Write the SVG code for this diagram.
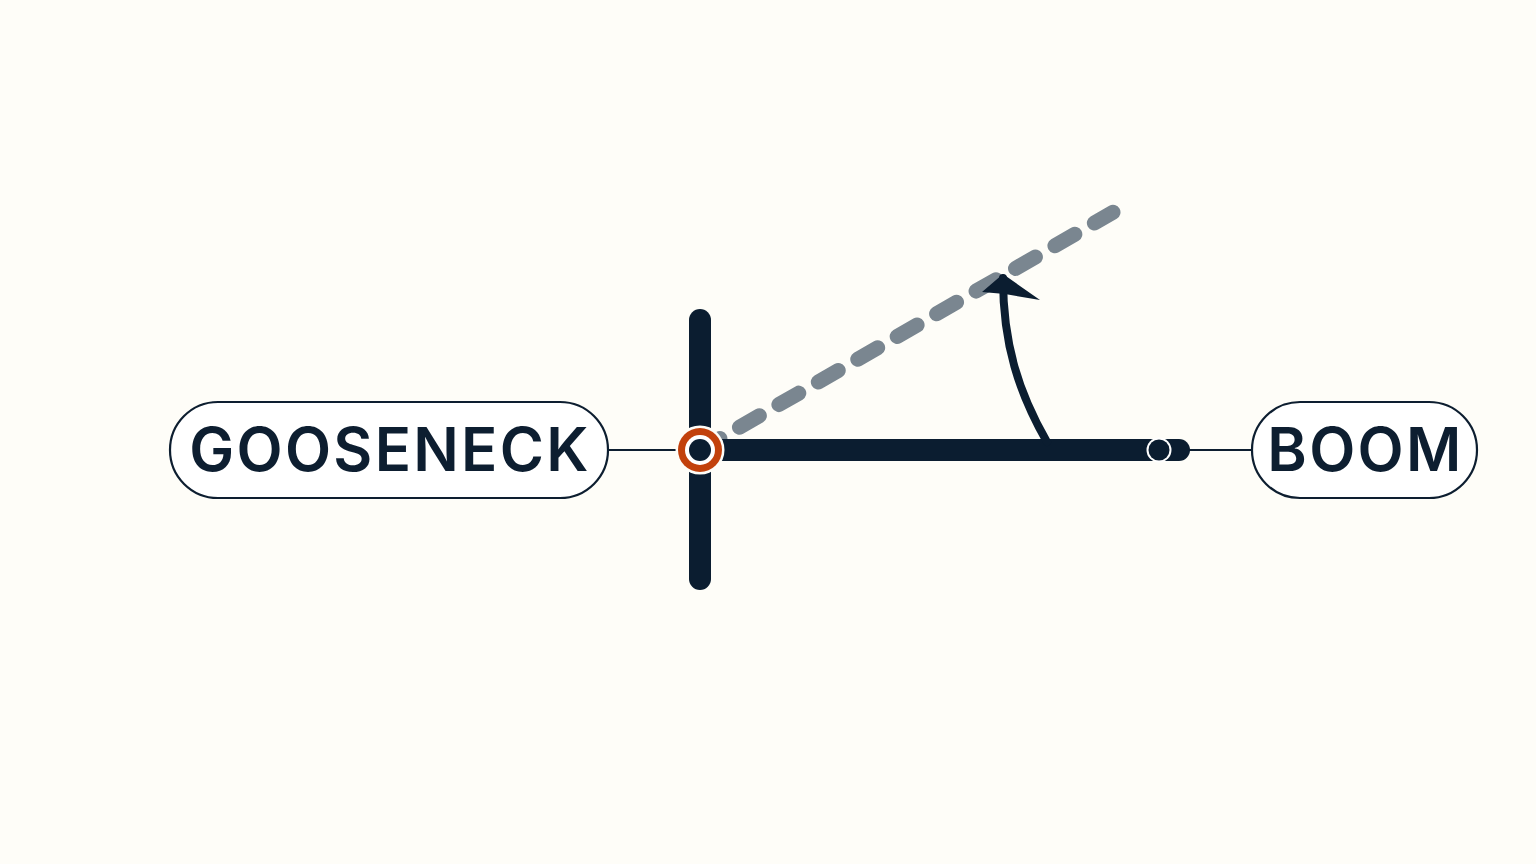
<svg xmlns="http://www.w3.org/2000/svg" width="1536" height="864" viewBox="0 0 1536 864">
<style>
.bg{fill:#fefdf8}
.pill{fill:#ffffff;stroke:#0d1e30;stroke-width:2.2}
.lbl{font-family:Inter,"Liberation Sans",sans-serif;font-weight:600;font-size:60px;letter-spacing:2.3px;fill:#0d1e30;text-anchor:middle}
.thin{stroke:#0d1e30;stroke-width:2.2;fill:none}
.bar{stroke:#0b1d30;stroke-width:22;stroke-linecap:round;fill:none}
.dash{stroke:#7a8690;stroke-width:15;stroke-linecap:round;stroke-dasharray:23 22.5;stroke-dashoffset:0;fill:none}
</style>
<rect class="bg" x="0" y="0" width="1536" height="864"/>
<g id="connectors">
<line class="thin" x1="608" y1="450" x2="690" y2="450"/>
<line class="thin" x1="1185" y1="450" x2="1252" y2="450"/>
<line class="dash" x1="700" y1="450" x2="1113" y2="212.3"/>
<line class="bar" x1="700" y1="320" x2="700" y2="579"/>
<line class="bar" x1="700" y1="450" x2="1179" y2="450"/>
<path d="M1047,442 C1019,393 1003,345 1003,278" stroke="#0b1d30" stroke-width="8" stroke-linecap="round" fill="none"/>
<polygon points="1003,274 982,292 1005,294 1040,300" fill="#0b1d30"/>
</g>
<g id="pivot">
<circle cx="700" cy="450" r="24.5" fill="#fefdf8"/>
<circle cx="700" cy="450" r="22" fill="#c2410c"/>
<circle cx="700" cy="450" r="15" fill="#ffffff"/>
<circle cx="700" cy="450" r="11" fill="#0b1d30"/>
</g>
<g id="boom-end">
<circle cx="1159" cy="450" r="12.5" fill="#ffffff"/>
<circle cx="1159" cy="450" r="10.5" fill="#0b1d30"/>
</g>
<g id="gooseneck">
<rect class="pill" x="170" y="402" width="438" height="96" rx="48"/>
<text class="lbl" x="390" y="471">GOOSENECK</text>
</g>
<g id="boom">
<rect class="pill" x="1252" y="402" width="225" height="96" rx="48"/>
<text class="lbl" x="1365.5" y="471">BOOM</text>
</g>
</svg>
